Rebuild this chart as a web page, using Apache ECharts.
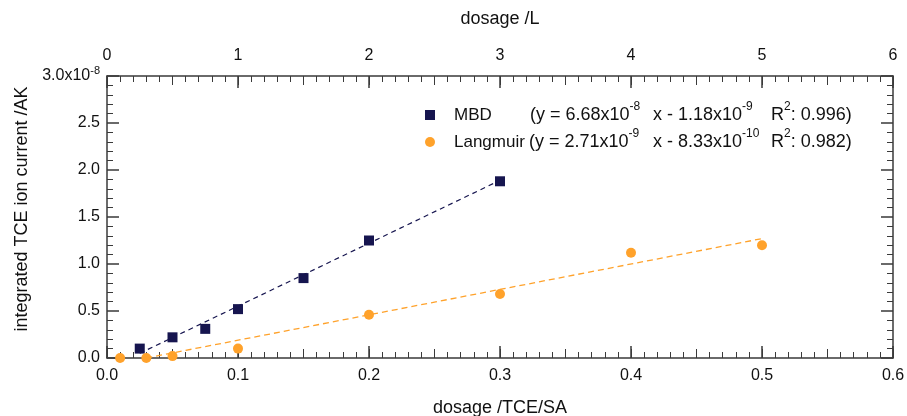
<!DOCTYPE html>
<html>
<head>
<meta charset="utf-8">
<script src="https://cdn.jsdelivr.net/npm/echarts@6/dist/echarts.min.js"></script>
<style>
html,body{margin:0;padding:0;background:#fff;}
#c{width:907px;height:416px;}
</style>
</head>
<body>
<div id="c"></div>
<script>
// ---- data (y values in units of 1e-8 AK) ----
const xMbd = [0.025, 0.05, 0.075, 0.1, 0.15, 0.2, 0.3];          // dosage /TCE/SA
const yMbd = [0.10, 0.22, 0.31, 0.52, 0.85, 1.25, 1.88];
const xLang = [0.1, 0.3, 0.5, 1, 2, 3, 4, 5];                     // dosage /L
const yLang = [0.0, 0.0, 0.02, 0.10, 0.46, 0.68, 1.12, 1.20];
const mbdFitX = [0.025, 0.3];
const mbdFitY = [0.05, 1.89];
const langFitX = [0.3, 5];
const langFitY = [0.0, 1.27];
const bottomTicks = [0, 0.1, 0.2, 0.3, 0.4, 0.5, 0.6];
const topTicks = [0, 1, 2, 3, 4, 5, 6];
const yTicks = [0, 0.5, 1.0, 1.5, 2.0, 2.5, 3.0];

const NAVY = '#16154f';
const ORANGE = '#ffa22b';
const AX = '#3a3a3a';
const FONT = "'Liberation Sans', Arial, Helvetica, sans-serif";

const zip = (a, b) => a.map((v, i) => [v, b[i]]);

function mainAxis(pos, min, max, interval, opts) {
  return Object.assign({
    type: 'value', position: pos, min: min, max: max, interval: interval,
    axisLine: { show: true, onZero: false, lineStyle: { color: AX, width: 1.5 } },
    axisTick: { show: true, inside: true, length: 12, lineStyle: { color: AX, width: 1.5 } },
    minorTick: { show: true, splitNumber: 10, length: 6, lineStyle: { color: AX, width: 1 } },
    splitLine: { show: false },
    axisLabel: { show: true, color: '#111', fontSize: 16, fontFamily: FONT },
    nameTextStyle: { color: '#111', fontSize: 18, fontFamily: FONT },
    nameLocation: 'middle'
  }, opts || {});
}
function midAxis(pos, min, max, interval) {
  return {
    type: 'value', position: pos, min: min, max: max, interval: interval,
    axisLine: { show: false, onZero: false },
    axisTick: { show: true, inside: true, length: 9, lineStyle: { color: AX, width: 1 } },
    axisLabel: { show: false }, splitLine: { show: false }
  };
}

const chart = echarts.init(document.getElementById('c'), null, { renderer: 'canvas' });
const option = {
  animation: false,
  textStyle: { fontFamily: FONT },
  grid: { left: 107, right: 14, top: 76, bottom: 58, containLabel: false, outerBoundsMode: 'none' },
  xAxis: [
    mainAxis('bottom', bottomTicks[0], bottomTicks[bottomTicks.length - 1], 0.1, {
      name: 'dosage /TCE/SA', nameGap: 41,
      axisLabel: { color: '#111', fontSize: 16, fontFamily: FONT, margin: 10, formatter: v => v.toFixed(1) }
    }),
    midAxis('bottom', 0, 0.6, 0.05),
    mainAxis('top', topTicks[0], topTicks[topTicks.length - 1], 1, {
      name: 'dosage /L', nameGap: 48,
      axisLabel: { color: '#111', fontSize: 16, fontFamily: FONT, margin: 12, formatter: v => String(v) }
    }),
    midAxis('top', 0, 6, 0.5)
  ],
  yAxis: [
    mainAxis('left', yTicks[0], yTicks[yTicks.length - 1], 0.5, {
      name: 'integrated TCE ion current /AK', nameGap: 76,
      nameTextStyle: { color: '#111', fontSize: 18, fontFamily: FONT, padding: [0, 0, 0, 16] },
      minorTick: { show: true, splitNumber: 5, length: 6, lineStyle: { color: AX, width: 1 } },
      axisLabel: {
        color: '#111', fontSize: 16, fontFamily: FONT, margin: 7,
        formatter: v => (v === 3 ? '{a|3.0x10}{s|-8}' : v.toFixed(1)),
        rich: {
          a: { fontSize: 16, fontFamily: FONT, color: '#111', lineHeight: 22 },
          s: { fontSize: 11, fontFamily: FONT, color: '#111', lineHeight: 8, verticalAlign: 'top' }
        }
      }
    }),
    mainAxis('right', 0, 3, 0.5, {
      minorTick: { show: true, splitNumber: 5, length: 6, lineStyle: { color: AX, width: 1 } },
      axisLabel: { show: false }
    })
  ],
  legend: {
    data: [{ name: 'MBD', icon: 'rect' }, { name: 'Langmuir', icon: 'circle' }],
    orient: 'vertical', left: 425, top: 105, padding: 0,
    itemWidth: 10, itemHeight: 10, itemGap: 7,
    textStyle: { fontSize: 17, fontFamily: FONT, color: '#111', lineHeight: 20, padding: [0, 0, 0, 14] }
  },
  graphic: [
    eq(530, 115, '{t|(y = 6.68x10}{s|-8}'),
    eq(653, 115, '{t|x - 1.18x10}{s|-9}'),
    eq(771, 115, '{t|R}{s|2}{t|: 0.996)}'),
    eq(529, 142, '{t|(y = 2.71x10}{s|-9}'),
    eq(653, 142, '{t|x - 8.33x10}{s|-10}'),
    eq(771, 142, '{t|R}{s|2}{t|: 0.982)}')
  ],
  series: [
    { name: 'MBD fit', type: 'line', xAxisIndex: 0, yAxisIndex: 0, data: zip(mbdFitX, mbdFitY),
      symbol: 'none', silent: true, z: 1, lineStyle: { color: NAVY, width: 1.2, type: [5, 4] } },
    { name: 'Langmuir fit', type: 'line', xAxisIndex: 2, yAxisIndex: 0, data: zip(langFitX, langFitY),
      symbol: 'none', silent: true, z: 1, lineStyle: { color: ORANGE, width: 1.3, type: [6, 4] } },
    { name: 'MBD', type: 'scatter', xAxisIndex: 0, yAxisIndex: 0, data: zip(xMbd, yMbd),
      symbol: 'rect', symbolSize: 10, itemStyle: { color: NAVY, opacity: 1 }, z: 3 },
    { name: 'Langmuir', type: 'scatter', xAxisIndex: 2, yAxisIndex: 0, data: zip(xLang, yLang),
      symbol: 'circle', symbolSize: 10, itemStyle: { color: ORANGE, opacity: 1 }, z: 3 }
  ]
};
function eq(x, y, text) {
  return {
    type: 'text', x: x, y: y, silent: true,
    style: {
      text: text, fill: '#111', verticalAlign: 'middle', align: 'left',
      rich: {
        t: { fontSize: 18, fontFamily: FONT, fill: '#111', lineHeight: 28 },
        s: { fontSize: 12, fontFamily: FONT, fill: '#111', lineHeight: 10, verticalAlign: 'top' }
      }
    }
  };
}
chart.setOption(option);
</script>
</body>
</html>
